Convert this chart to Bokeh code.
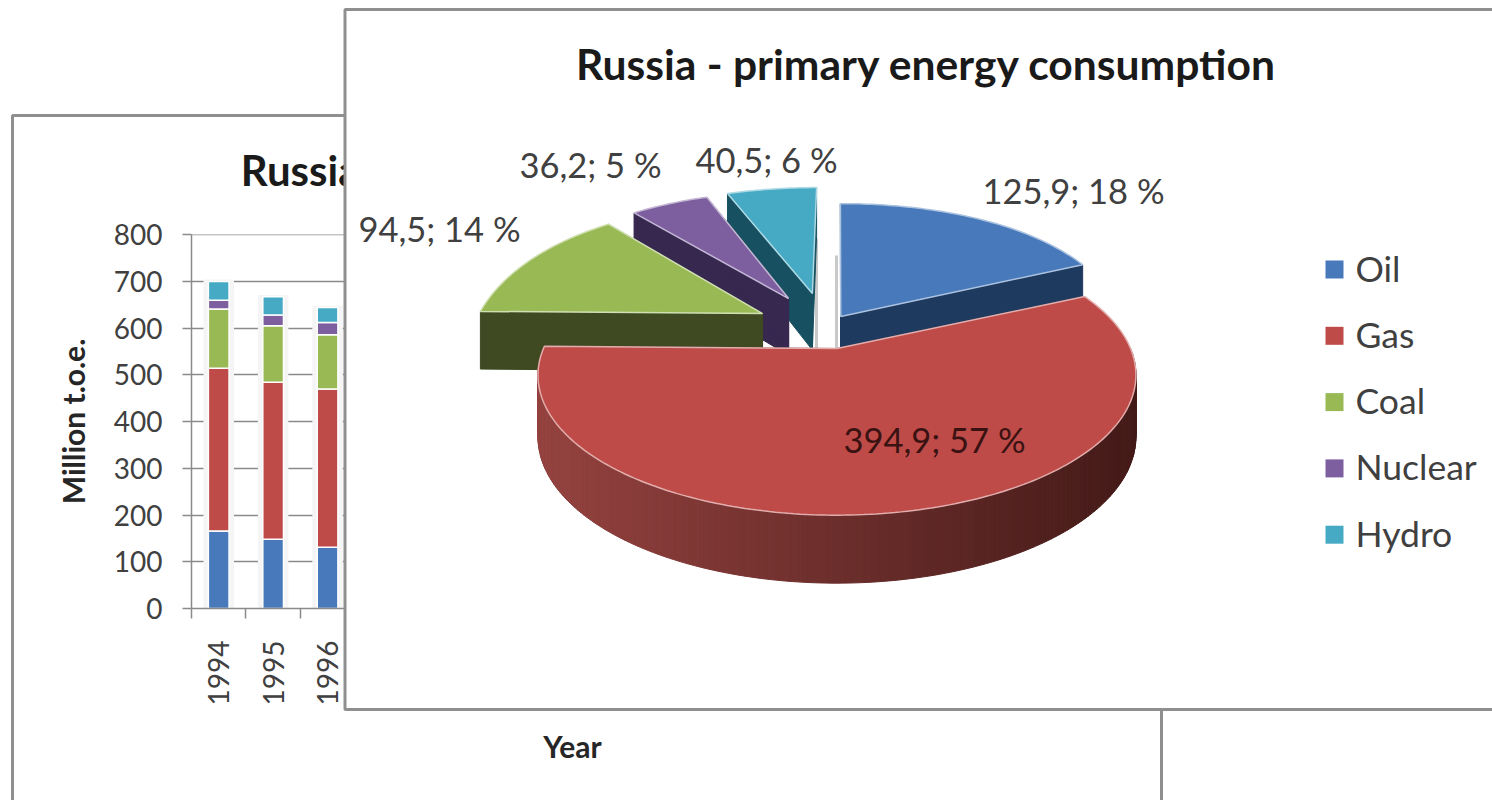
import math

from bokeh.core.properties import value
from bokeh.embed import file_html
from bokeh.models import FixedTicker, Range1d
from bokeh.plotting import figure
from bokeh.resources import INLINE

# Energy sources shared by both charts
sources = ["Oil", "Gas", "Coal", "Nuclear", "Hydro"]
colors = ["#4779bb", "#be4b48", "#98b954", "#7d5fa0", "#46aac4"]
wall_colors = ["#1f3a5f", "#6b2b28", "#3f4a22", "#36284f", "#175060"]

# Annual consumption, million t.o.e.
years = [1994, 1995, 1996]
oil = [166, 148, 131]
gas = [348, 336, 339]
coal = [127, 121, 116]
nuclear = [19, 23, 26]
hydro = [40, 39, 32]

# Latest year split, million t.o.e. and share in percent
pie_values = [125.9, 394.9, 94.5, 36.2, 40.5]
pie_percent = [18, 57, 14, 5, 6]

FONT = value("Lato")
TEXT = "#404040"
BORDER = "#8f8f8f"
GRID = "#8a8a8a"
TITLE = "Russia - primary energy consumption"


def stacked_chart():
    p = figure(
        width=1492, height=800, output_backend="svg", toolbar_location=None,
        x_range=Range1d(1993.5, 2007.5), y_range=Range1d(0, 800.5),
        min_border_left=191, min_border_right=539,
        min_border_top=234, min_border_bottom=192,
        background_fill_color="white", border_fill_color="white",
        outline_line_color=None,
    )
    p.xgrid.visible = False
    p.ygrid.grid_line_color = GRID
    p.ygrid.grid_line_width = 1.5

    xax, yax = p.xaxis[0], p.yaxis[0]
    yax.ticker = FixedTicker(ticks=list(range(0, 801, 100)))
    yax.major_tick_out, yax.major_tick_in = 9, 0
    yax.minor_tick_out = 0
    yax.minor_tick_in = 0
    yax.major_label_text_font_size = "28px"
    yax.major_label_text_font = "Lato"
    yax.major_label_text_color = TEXT
    yax.major_label_standoff = 20
    yax.axis_line_color = GRID
    yax.major_tick_line_color = GRID
    yax.axis_line_width = 1.5
    yax.major_tick_line_width = 1.5
    yax.axis_label = "Million t.o.e."
    yax.axis_label_text_font = "Lato"
    yax.axis_label_text_font_style = "bold"
    yax.axis_label_text_font_size = "30px"
    yax.axis_label_text_color = "#262626"
    yax.axis_label_standoff = 20

    edges = [y - 0.5 for y in years] + [years[-1] + 0.5]
    xax.ticker = FixedTicker(ticks=years, minor_ticks=edges)
    xax.major_tick_out, xax.major_tick_in = 0, 0
    xax.minor_tick_out, xax.minor_tick_in = 10, 0
    xax.minor_tick_line_color = GRID
    xax.minor_tick_line_width = 1.5
    xax.axis_line_color = GRID
    xax.axis_line_width = 1.5
    xax.major_label_orientation = math.pi / 2
    xax.major_label_text_font_size = "28px"
    xax.major_label_text_font = "Lato"
    xax.major_label_text_color = TEXT
    xax.major_label_standoff = 22
    xax.axis_label = "Year"
    xax.axis_label_text_font = "Lato"
    xax.axis_label_text_font_style = "bold"
    xax.axis_label_text_font_size = "30px"
    xax.axis_label_text_color = "#262626"
    xax.axis_label_standoff = 20

    series = [oil, gas, coal, nuclear, hydro]
    totals = [sum(s[i] for s in series) for i in range(len(years))]
    # Soft halo that interrupts the gridlines around every column
    p.vbar(x=years, width=0.56, bottom=0, top=[t + 4 for t in totals],
           fill_color="#f5f5f5", line_color=None)
    base = [0] * len(years)
    for vals, color in zip(series, colors):
        top = [b + v for b, v in zip(base, vals)]
        p.vbar(x=years, width=0.38, bottom=base, top=top,
               fill_color=color, line_color="white", line_width=1.5)
        base = top
    return p


# Projection of the tilted pie onto the panel
CX, CY, RX, RY, K = 838, 348, 298, 135, 0.19
BACK_STRETCH = 1.1
GAS_WIDTH = 0.985
# Exploded displacement of each slice in pie radii (across, toward the viewer)
explode = {"Oil": (0.008, -0.248), "Gas": (-0.005, 0.0), "Coal": (-0.268, -0.272),
           "Nuclear": (-0.18, -0.398), "Hydro": (-0.095, -0.441)}


def project(u, v, drop=0.0):
    w = 1 - K * v
    return CX + RX * u / w, CY + RY * v / w + drop * (60 + 8 * v)


def mix(a, b, f):
    ca = [int(a[i:i + 2], 16) for i in (1, 3, 5)]
    cb = [int(b[i:i + 2], 16) for i in (1, 3, 5)]
    return "#" + "".join(f"{round(x + (y - x) * f):02x}" for x, y in zip(ca, cb))


def rim_point(name, t):
    du, dv = explode[name]
    if name == "Gas":
        return du + GAS_WIDTH * math.sin(t), dv - math.cos(t)
    # Slices behind the hub widen slightly towards the far side of the pie
    across = 1 + 0.07 * math.cos(t) ** 2
    return du + across * math.sin(t), dv - BACK_STRETCH * math.cos(t)


def draw_slice(p, name, start, sweep, color, wall):
    hub = explode[name]
    steps = max(8, int(sweep))
    rim = [rim_point(name, math.radians(start + sweep * i / steps)) for i in range(steps + 1)]

    # Radial side walls come first so the top face covers whatever is behind it
    for end in (rim[0], rim[-1]):
        corners = [project(*hub), project(*end), project(*end, 1), project(*hub, 1)]
        p.patch([c[0] for c in corners], [c[1] for c in corners],
                fill_color=wall, line_color=wall, line_width=1)

    # Outer wall, only where it faces the viewer; gas gets its left-to-right shading
    for i in range(steps):
        a, b = rim[i], rim[i + 1]
        if max(a[1], b[1]) < 0:
            continue
        x_mid = (project(*a)[0] + project(*b)[0]) / 2
        f = min(1.0, max(0.0, (x_mid - (CX - RX)) / (2 * RX)))
        shade = mix("#94423f", "#431a18", f) if name == "Gas" else wall
        corners = [project(*a), project(*b), project(*b, 1), project(*a, 1)]
        p.patch([c[0] for c in corners], [c[1] for c in corners],
                fill_color=shade, line_color=shade, line_width=1)

    outline = [project(*hub)] + [project(*q) for q in rim]
    p.patch([c[0] for c in outline], [c[1] for c in outline],
            fill_color=color, line_color=mix(color, "#ffffff", 0.55), line_width=1.5)


def overlay():
    p = figure(
        width=1492, height=800, output_backend="svg", toolbar_location=None,
        x_range=Range1d(0, 1492), y_range=Range1d(800, 0),
        min_border=0, outline_line_color=None,
        background_fill_color=None, border_fill_color=None,
        styles={"position": "absolute", "left": "0px", "top": "0px"},
    )
    p.axis.visible = False
    p.grid.visible = False

    # Panel of the stacked chart with its title, then the pie panel on top
    p.quad(left=12, right=1161, top=115, bottom=815,
           fill_color=None, line_color=BORDER, line_width=3)
    p.text(x=[586], y=[169], text=[TITLE],
           text_font=FONT, text_font_style="bold", text_font_size=value("42px"),
           text_color="#1a1a1a", text_align="center", text_baseline="middle")
    p.quad(left=344.5, right=1510, top=9, bottom=709,
           fill_color="white", line_color=BORDER, line_width=3)
    p.text(x=[926], y=[63], text=[TITLE],
           text_font=FONT, text_font_style="bold", text_font_size=value("42.6px"),
           text_color="#1a1a1a", text_align="center", text_baseline="middle")

    # Faint shadows along the facing edges of the hydro and oil slices
    p.segment(x0=[816, 836], y0=[238, 255], x1=[816, 836], y1=[348, 348],
              line_color="#c9c9c9", line_width=3)

    # Slices are painted from the back of the pie to the front
    total = sum(pie_values)
    starts, angle = {}, 0.0
    for name, v in zip(sources, pie_values):
        starts[name] = (angle, v / total * 360)
        angle += v / total * 360
    for name in ["Hydro", "Nuclear", "Coal", "Oil", "Gas"]:
        i = sources.index(name)
        draw_slice(p, name, *starts[name], colors[i], wall_colors[i])

    # Data labels
    texts = [f"{v:.1f}".replace(".", ",") + f"; {q} %" for v, q in zip(pie_values, pie_percent)]
    label_x = [1073, 934, 439, 590, 766]
    label_y = [190, 439, 228, 164, 159]
    label_colors = [TEXT, "#3a1212", TEXT, TEXT, TEXT]
    p.text(x=label_x, y=label_y, text=texts, text_font=FONT, text_font_size=value("34.5px"),
           text_color=label_colors, text_align="center", text_baseline="middle")

    # Legend
    legend_y = [269 + 66.3 * i for i in range(len(sources))]
    p.rect(x=[1334] * len(sources), y=legend_y, width=18, height=18,
           fill_color=colors, line_color=None)
    p.text(x=[1355] * len(sources), y=[y - 1.5 for y in legend_y], text=sources, text_font=FONT,
           text_font_size=value("35.5px"), text_color=TEXT, text_baseline="middle")
    return p


# Two separate roots, so the overlay keeps its own frame instead of aligning to the axes below it
open("out.html", "w").write(file_html([stacked_chart(), overlay()], INLINE))
